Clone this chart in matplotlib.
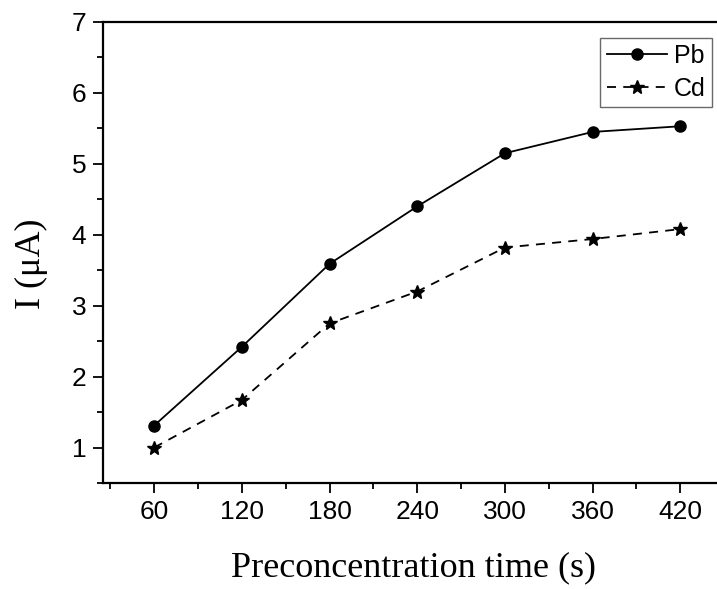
import matplotlib.pyplot as plt
from matplotlib.ticker import MultipleLocator

# ---- DATA ----
time_s = [60, 120, 180, 240, 300, 360, 420]
pb_current = [1.31, 2.42, 3.59, 4.40, 5.15, 5.45, 5.53]
cd_current = [1.00, 1.67, 2.75, 3.20, 3.82, 3.94, 4.08]

# ---- PLOT ----
fig = plt.figure(figsize=(7.17, 5.89), dpi=100)
ax_w = 1 - 103 / 717 + 0.01
ax = fig.add_axes([103 / 717, 1 - 483 / 589, ax_w, (483 - 22) / 589])

ax.plot(time_s, pb_current, "-", color="black", lw=1.3, marker="o", ms=8, label="Pb")
ax.plot(time_s, cd_current, "--", color="black", lw=1.3, marker="*", ms=10,
        dashes=(5, 4), label="Cd")

ax.set_xlim(25, 450)
ax.set_ylim(0.5, 7)
ax.set_xticks(time_s)
ax.xaxis.set_minor_locator(MultipleLocator(30))
ax.set_yticks([1, 2, 3, 4, 5, 6, 7])
ax.yaxis.set_minor_locator(MultipleLocator(0.5))

ax.spines["right"].set_visible(False)
for s in ("left", "bottom", "top"):
    ax.spines[s].set_linewidth(1.6)
ax.tick_params(which="both", direction="out", width=1.3, right=False, top=False,
               labelsize=19, pad=5)
ax.tick_params(which="major", length=7)
ax.tick_params(which="minor", length=4)
for lab in ax.get_xticklabels() + ax.get_yticklabels():
    lab.set_fontfamily("Liberation Sans")

ax.set_xlabel("Preconcentration time (s)", fontfamily="Liberation Serif", fontsize=26, labelpad=20)
ax.set_ylabel("I (\u03bcA)", fontfamily="Liberation Serif", fontsize=26)
ax.yaxis.set_label_coords(-0.089, 0.475)

leg = ax.legend(loc="upper right", bbox_to_anchor=((712 - 103) / 717 / ax_w, 0.966),
                prop={"family": "Liberation Sans", "size": 18}, frameon=True, fancybox=False,
                handlelength=2.4, handletextpad=0.3, borderpad=0.25, labelspacing=0.35,
                borderaxespad=0)
leg.get_frame().set_edgecolor("#444444")
leg.get_frame().set_linewidth(1.0)

plt.savefig("out.png", dpi=100)
